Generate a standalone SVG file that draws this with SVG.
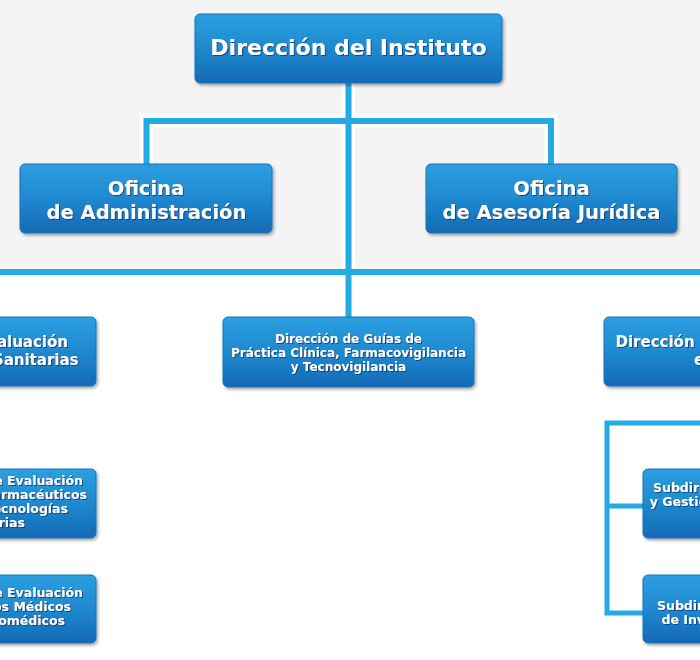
<svg xmlns="http://www.w3.org/2000/svg" width="700" height="660" viewBox="0 0 700 660">
<defs>
<linearGradient id="boxg" x1="0" y1="0" x2="0" y2="1">
<stop offset="0" stop-color="#2c9fe0"/>
<stop offset="0.5" stop-color="#1f89d0"/>
<stop offset="1" stop-color="#126ab4"/>
</linearGradient>
<filter id="bshadow" x="-10%" y="-20%" width="125%" height="150%">
<feDropShadow dx="1.5" dy="2" stdDeviation="1.5" flood-color="#000" flood-opacity="0.35"/>
</filter>
<filter id="tshadow" x="-5%" y="-30%" width="110%" height="160%">
<feDropShadow dx="1" dy="1" stdDeviation="0.7" flood-color="#0b3d6e" flood-opacity="0.85"/>
</filter>
</defs>
<style>
.box{fill:url(#boxg);stroke:#1a73b8;stroke-width:1;filter:url(#bshadow)}
.lbl{font-family:"DejaVu Sans","Verdana",sans-serif;font-weight:bold;fill:#ffffff;filter:url(#tshadow)}
.halo{fill:none;stroke:#ffffff;stroke-width:13;stroke-linejoin:miter}
.ln{fill:none;stroke:#25abe3;stroke-width:6;stroke-linejoin:miter}
.ln2{fill:none;stroke:#25abe3;stroke-width:5;stroke-linejoin:miter}
</style>
<rect x="0" y="0" width="700" height="660" fill="#ffffff"/>
<rect x="0" y="0" width="700" height="270" fill="#f4f4f4"/>
<g id="connectors">
<path class="halo" d="M146.5 164 V121 H551 V164 M348.5 83 V268"/>
<path class="ln" d="M146.5 164 V121 H551 V164"/>
<path class="ln" d="M348.5 83 V317"/>
<path class="ln" d="M0 272 H700"/>
<path class="ln2" d="M700 423 H607 V613 H643 M607 506 H643"/>
</g>
<g id="n-direccion-instituto">
<rect class="box" x="195" y="14" width="307" height="69" rx="5"/>
<text class="lbl" x="348.5" y="55" font-size="22" text-anchor="middle">Dirección del Instituto</text>
</g>
<g id="n-oficina-administracion">
<rect class="box" x="20" y="164" width="252" height="69" rx="5"/>
<text class="lbl" x="146" y="195" font-size="19.5" text-anchor="middle">Oficina</text>
<text class="lbl" x="146.5" y="219" font-size="19.5" text-anchor="middle">de Administración</text>
</g>
<g id="n-oficina-asesoria">
<rect class="box" x="426" y="164" width="251" height="69" rx="5"/>
<text class="lbl" x="551.5" y="195" font-size="19.5" text-anchor="middle">Oficina</text>
<text class="lbl" x="551.5" y="219" font-size="19.5" text-anchor="middle">de Asesoría Jurídica</text>
</g>
<g id="n-direccion-evaluacion">
<rect class="box" x="-155" y="317" width="251" height="69" rx="5"/>
<text class="lbl" x="68" y="347" font-size="15" text-anchor="end">Dirección de Evaluación</text>
<text class="lbl" x="78.5" y="365" font-size="15" text-anchor="end">de Tecnologías Sanitarias</text>
</g>
<g id="n-direccion-guias">
<rect class="box" x="223" y="317" width="251" height="70" rx="5"/>
<text class="lbl" x="348.5" y="343" font-size="12" text-anchor="middle">Dirección de Guías de</text>
<text class="lbl" x="348.5" y="357" font-size="12" text-anchor="middle">Práctica Clínica, Farmacovigilancia</text>
<text class="lbl" x="348.5" y="371" font-size="12" text-anchor="middle">y Tecnovigilancia</text>
</g>
<g id="n-direccion-investigacion">
<rect class="box" x="604" y="317" width="251" height="69" rx="5"/>
<text class="lbl" x="615.5" y="347" font-size="15">Dirección de Investigación</text>
<text class="lbl" x="694" y="365" font-size="15">en Salud</text>
</g>
<g id="n-subdir-farmaceuticos">
<rect class="box" x="-155" y="469" width="251" height="69" rx="5"/>
<text class="lbl" x="83" y="485" font-size="12.5" text-anchor="end">Subdirección de Evaluación</text>
<text class="lbl" x="87" y="499" font-size="12.5" text-anchor="end">de Productos Farmacéuticos</text>
<text class="lbl" x="68" y="513" font-size="12.5" text-anchor="end">y Otras Tecnologías</text>
<text class="lbl" x="25" y="527" font-size="12.5" text-anchor="end">Sanitarias</text>
</g>
<g id="n-subdir-dispositivos">
<rect class="box" x="-155" y="575" width="251" height="68" rx="5"/>
<text class="lbl" x="83" y="597" font-size="12.5" text-anchor="end">Subdirección de Evaluación</text>
<text class="lbl" x="71" y="611" font-size="12.5" text-anchor="end">de Dispositivos Médicos</text>
<text class="lbl" x="65" y="625" font-size="12.5" text-anchor="end">y Equipos Biomédicos</text>
</g>
<g id="n-subdir-gestion">
<rect class="box" x="643" y="469" width="251" height="69" rx="5"/>
<text class="lbl" x="653" y="492" font-size="12.5">Subdirección</text>
<text class="lbl" x="649.7" y="506" font-size="12.5">y Gestión</text>
</g>
<g id="n-subdir-investigacion">
<rect class="box" x="643" y="575" width="251" height="68" rx="5"/>
<text class="lbl" x="657" y="610" font-size="12.5">Subdirección</text>
<text class="lbl" x="661.5" y="624" font-size="12.5">de Investigación</text>
</g>
</svg>
